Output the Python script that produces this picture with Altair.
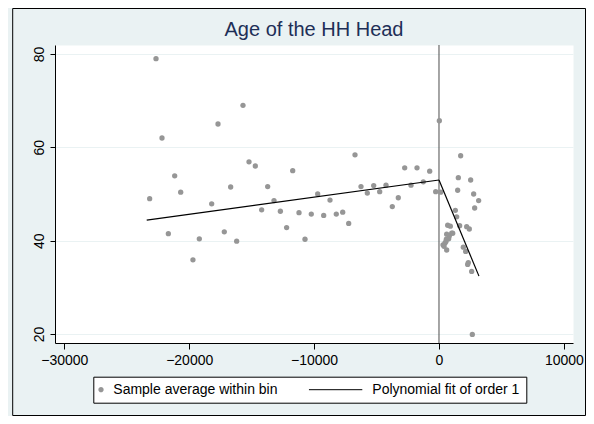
import altair as alt
import pandas as pd

# ---- data ----
bin_x = [-23166, -22658, -22178, -21670, -21162, -20682, -19700, -19190, -18200, -17694,
         -17190, -16680, -16200, -15693, -15212, -14707, -14200, -13717, -13210, -12700,
         -12200, -11713, -11209, -10729, -10224, -9712, -9232, -8727, -8223, -7710,
         -7230, -6725, -6245, -5740, -5228, -4748, -4243, -3739, -3259, -2746,
         -2242, -1761, -1257, -745, -264,
         27, 136, 1735, 1548, 2535, 1495, 2775, 3175, 2855, 1308,
         1415, 695, 908, 1655, 2215, 2428, 615, 1015, 825, 588,
         775, 320, 480, 615, 1948, 2135, 2348, 2295, 2615, 2668,
         560, 400, 1097]
bin_y = [49.0, 79.0, 62.0, 41.5, 53.9, 50.4, 35.9, 40.4, 47.9, 65.0,
         41.9, 51.5, 39.9, 69.0, 56.9, 56.0, 46.6, 51.6, 48.6, 46.3,
         42.8, 55.0, 46.0, 40.3, 45.7, 50.0, 45.4, 48.7, 45.7, 46.1,
         43.7, 58.4, 51.6, 50.2, 51.8, 50.5, 51.9, 47.3, 49.2, 55.6,
         51.9, 55.6, 52.6, 54.9, 50.5,
         65.7, 50.4, 58.2, 53.5, 53.0, 50.8, 50.0, 48.6, 47.0, 46.5,
         45.1, 43.3, 43.1, 43.2, 43.0, 42.5, 41.4, 41.6, 41.0, 40.3,
         40.4, 39.1, 39.5, 38.0, 38.6, 37.7, 35.3, 34.9, 33.4, 19.9,
         39.8, 38.8, 41.6]
fit_x = [-23400, 0, 0, 3200]
fit_y = [44.4, 53.0, 53.0, 32.4]
fit_side = ["left", "left", "right", "right"]
cutoff = [0]
x_ticks = [-30000, -20000, -10000, 0, 10000]
y_ticks = [20, 40, 60, 80]
series = ["Sample average within bin", "Polynomial fit of order 1"]
title_text = "Age of the HH Head"

FONT = "Liberation Sans"
GRAY = "#969696"
BG = "#EAF2F3"
W, H = 518, 298

bins = pd.DataFrame({"x": bin_x, "y": bin_y, "series": series[0]})
fit = pd.DataFrame({"x": fit_x, "y": fit_y, "side": fit_side, "series": series[1]})
cut = pd.DataFrame({"x": cutoff})
empty = pd.DataFrame({"x": pd.Series([], dtype=float), "y": pd.Series([], dtype=float),
                      "series": pd.Series([], dtype=str)})
one = pd.DataFrame({"a": [0]})

xscale = alt.Scale(domain=[-30745, 10729], nice=False, zero=False)
yscale = alt.Scale(domain=[18.07, 81.93], nice=False, zero=False)

# legend key glyphs (unit = 2.645 px at symbol size 28)
CIRCLE_PATH = "M-1,0A1,1,0,1,1,-3,0A1,1,0,1,1,-1,0Z"
LINE_PATH = "M-21.3,0H-1.13"

legend = alt.Legend(orient="none", legendX=38.3, legendY=331.7, direction="horizontal",
                    title=None, padding=6, strokeColor="black", fillColor="white",
                    labelFont=FONT, labelFontSize=14, labelColor="black",
                    labelOffset=0, columnPadding=28, symbolSize=28,
                    symbolStrokeWidth=1, labelLimit=400)

fill_scale = alt.Scale(domain=series, range=[GRAY, "transparent"])
stroke_scale = alt.Scale(domain=series, range=["transparent", "black"])
shape_scale = alt.Scale(domain=series, range=[CIRCLE_PATH, LINE_PATH])

xaxis = alt.Axis(values=x_ticks, format="d", title=None, grid=False, tickSize=6,
                 labelPadding=15, labelBaseline="alphabetic", labelFont=FONT,
                 labelFontSize=14, labelColor="black", domainColor="black",
                 tickColor="black", labelFlush=False, labelOverlap=False)
yaxis = alt.Axis(values=y_ticks, title=None, grid=True, gridColor=BG, gridWidth=1,
                 tickSize=5, labelAngle=270, labelAlign="center",
                 labelBaseline="alphabetic", labelPadding=7, labelFont=FONT,
                 labelFontSize=14, labelColor="black", domainColor="black",
                 tickColor="black", labelOverlap=False)

frame = alt.Chart(one).mark_rect(fillOpacity=0, stroke="black", strokeWidth=1).encode(
    x=alt.value(-42.3), x2=alt.value(530.5), y=alt.value(-36.5), y2=alt.value(370.5))

rule = alt.Chart(cut).mark_rule(color="#4d4d4d", strokeWidth=1).encode(
    x=alt.X("x:Q", scale=xscale, axis=xaxis))

points = alt.Chart(bins).mark_point(filled=True, shape="circle", size=28, opacity=1).encode(
    x=alt.X("x:Q", scale=xscale, axis=xaxis),
    y=alt.Y("y:Q", scale=yscale, axis=yaxis),
    fill=alt.Fill("series:N", scale=fill_scale, legend=legend),
)

lines = alt.Chart(fit).mark_line(strokeWidth=1.2).encode(
    x=alt.X("x:Q", scale=xscale, axis=xaxis),
    y=alt.Y("y:Q", scale=yscale, axis=yaxis),
    detail="side:N",
    stroke=alt.Stroke("series:N", scale=stroke_scale, legend=legend),
)

legend_keys = alt.Chart(empty).mark_point(filled=True, opacity=1).encode(
    x=alt.X("x:Q", scale=xscale, axis=xaxis),
    y=alt.Y("y:Q", scale=yscale, axis=yaxis),
    fill=alt.Fill("series:N", scale=fill_scale, legend=legend),
    stroke=alt.Stroke("series:N", scale=stroke_scale, legend=legend),
    shape=alt.Shape("series:N", scale=shape_scale, legend=legend),
)

chart = alt.layer(frame, rule, points, lines, legend_keys).properties(
    width=W, height=H,
    title=alt.TitleParams(title_text, fontSize=20, font=FONT, fontWeight="normal",
                          color="#1E2F57", anchor="middle", frame="group",
                          baseline="alphabetic", offset=-47.5),
    autosize=alt.AutoSizeParams(type="none"),
    padding={"left": 47, "top": 37, "right": 13, "bottom": 73},
    background=BG,
).configure_view(fill="white", stroke="transparent")

chart.save("out.html", embed_options={"renderer": "svg", "actions": False})
